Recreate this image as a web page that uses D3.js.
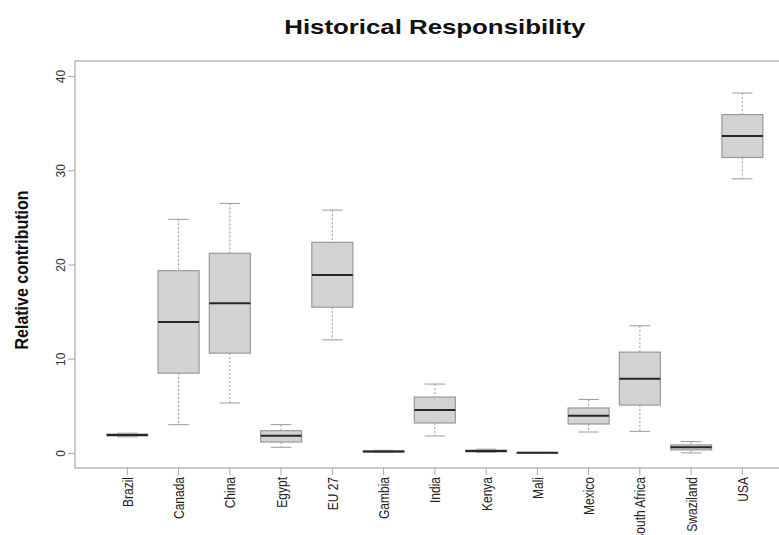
<!DOCTYPE html>
<html>
<head>
<meta charset="utf-8">
<script src="https://cdn.jsdelivr.net/npm/d3@7"></script>
<style>
  html, body { margin: 0; padding: 0; background: #fff; }
  svg { display: block; }
  text { font-family: "Liberation Sans", Arial, Helvetica, sans-serif; }
</style>
</head>
<body>
<svg id="chart" width="779" height="535"></svg>
<script>
// ---- data ----
const categories = ["Brazil", "Canada", "China", "Egypt", "EU 27", "Gambia", "India",
                    "Kenya", "Mali", "Mexico", "South Africa", "Swaziland", "USA"];
const lowerWhisker = [1.70, 3.00, 5.30, 0.60, 12.00, 0.05, 1.80, 0.05, 0.01, 2.22, 2.29, 0.00, 29.09];
const q1Values     = [1.80, 8.47, 10.59, 1.16, 15.47, 0.10, 3.18, 0.12, 0.02, 3.07, 5.08, 0.32, 31.36];
const medianValues = [1.90, 13.91, 15.89, 1.83, 18.89, 0.15, 4.55, 0.20, 0.03, 3.95, 7.87, 0.60, 33.64];
const q3Values     = [2.00, 19.34, 21.19, 2.36, 22.35, 0.22, 5.93, 0.30, 0.04, 4.77, 10.70, 0.85, 35.91];
const upperWhisker = [2.10, 24.79, 26.48, 3.00, 25.77, 0.28, 7.31, 0.40, 0.05, 5.68, 13.49, 1.20, 38.20];
const yTicks = [0, 10, 20, 30, 40];
const titleText = "Historical Responsibility";
const yLabelText = "Relative contribution";

const boxes = categories.map((c, i) => ({
  name: c, lo: lowerWhisker[i], q1: q1Values[i], med: medianValues[i],
  q3: q3Values[i], hi: upperWhisker[i]
}));

// ---- layout ----
const svg = d3.select("#chart");
const plot = { left: 75, top: 61, bottom: 468, right: 794.6 };

const x = d3.scaleBand()
  .domain(categories)
  .range([101.7, 768])
  .paddingInner(0.2)
  .paddingOuter(0.1);

const y = d3.scaleLinear()
  .domain([-1.6, 41.6])
  .range([plot.bottom, plot.top]);

const bw = x.bandwidth();
const cx = d => x(d.name) + bw / 2;

// frame
svg.append("rect")
  .attr("x", plot.left).attr("y", plot.top)
  .attr("width", plot.right - plot.left).attr("height", plot.bottom - plot.top)
  .attr("fill", "none").attr("stroke", "#a8a8a8").attr("stroke-width", 1.2);

const g = svg.append("g");
const bx = g.selectAll("g.box").data(boxes).join("g").attr("class", "box");

// whiskers (dashed)
bx.append("line")
  .attr("x1", cx).attr("x2", cx)
  .attr("y1", d => y(d.hi)).attr("y2", d => y(d.q3))
  .attr("stroke", "#9a9a9a").attr("stroke-dasharray", "2,2").attr("stroke-width", 1);
bx.append("line")
  .attr("x1", cx).attr("x2", cx)
  .attr("y1", d => y(d.q1)).attr("y2", d => y(d.lo))
  .attr("stroke", "#9a9a9a").attr("stroke-dasharray", "2,2").attr("stroke-width", 1);
// staples
bx.append("line")
  .attr("x1", d => cx(d) - bw / 4).attr("x2", d => cx(d) + bw / 4)
  .attr("y1", d => y(d.hi)).attr("y2", d => y(d.hi))
  .attr("stroke", "#9a9a9a").attr("stroke-width", 1);
bx.append("line")
  .attr("x1", d => cx(d) - bw / 4).attr("x2", d => cx(d) + bw / 4)
  .attr("y1", d => y(d.lo)).attr("y2", d => y(d.lo))
  .attr("stroke", "#9a9a9a").attr("stroke-width", 1);
// boxes
bx.append("rect")
  .attr("x", d => x(d.name)).attr("width", bw)
  .attr("y", d => y(d.q3)).attr("height", d => Math.max(0.5, y(d.q1) - y(d.q3)))
  .attr("fill", "#d3d3d3").attr("stroke", "#999").attr("stroke-width", 1.2);
// medians
bx.append("line")
  .attr("x1", d => x(d.name)).attr("x2", d => x(d.name) + bw)
  .attr("y1", d => y(d.med)).attr("y2", d => y(d.med))
  .attr("stroke", "#262626").attr("stroke-width", 2);

// y axis (R style: ticks outside, labels rotated)
const yAxis = svg.append("g").attr("transform", `translate(${plot.left},0)`)
  .call(d3.axisLeft(y).tickValues(yTicks).tickSize(7).tickPadding(3));
yAxis.select(".domain").remove();
yAxis.selectAll(".tick line").attr("stroke", "#a8a8a8");
yAxis.selectAll(".tick text")
  .attr("font-size", 12).attr("fill", "#333")
  .attr("text-anchor", "middle")
  .attr("x", null).attr("dy", null)
  .attr("transform", "translate(-10,0) scale(1.1,1) rotate(-90)");

// x axis
const xAxis = svg.append("g").attr("transform", `translate(0,${plot.bottom})`)
  .call(d3.axisBottom(x).tickSize(7).tickSizeOuter(0));
xAxis.select(".domain").remove();
xAxis.selectAll(".tick line").attr("stroke", "#a8a8a8");
xAxis.selectAll(".tick text")
  .attr("font-size", 12).attr("fill", "#222")
  .attr("text-anchor", "end")
  .attr("y", null).attr("dy", null)
  .attr("transform", "translate(5.5,9) scale(1.2,1) rotate(-90)");

// title
svg.append("text")
  .attr("transform", `translate(${(plot.left + plot.right) / 2},34) scale(1.23,1)`)
  .attr("text-anchor", "middle")
  .attr("font-size", 21).attr("font-weight", "bold").attr("fill", "#111")
  .text(titleText);

// y label
svg.append("text")
  .attr("transform", `translate(28,270) scale(1.2,1) rotate(-90)`)
  .attr("text-anchor", "middle")
  .attr("font-size", 16).attr("font-weight", "bold").attr("fill", "#111")
  .text(yLabelText);
</script>
</body>
</html>
